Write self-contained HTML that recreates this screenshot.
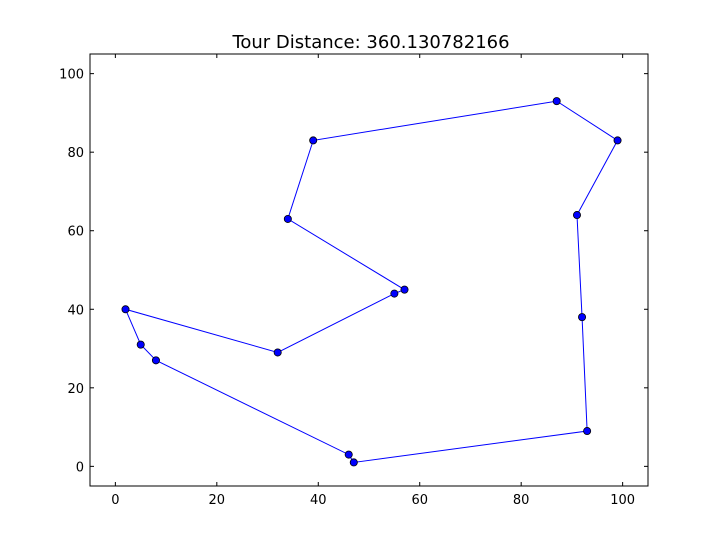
<!DOCTYPE html>
<html><head><meta charset="utf-8"><style>body{margin:0;background:#fff}svg{display:block}</style></head>
<body>
<svg id="chart" width="720" height="540" xmlns="http://www.w3.org/2000/svg" font-family="'DejaVu Sans', 'Liberation Sans', sans-serif">
<rect width="720" height="540" fill="#fff"/>
<text x="371" y="48" text-anchor="middle" font-size="18">Tour Distance: 360.130782166</text>
<g id="plot"></g>
<rect x="90" y="54" width="558" height="432" fill="none" stroke="#000" stroke-width="1"/>
</svg>
<script>
const tourX = [47, 93, 92, 91, 99, 87, 39, 34, 57, 55, 32, 2, 5, 8, 46];
const tourY = [1, 9, 38, 64, 83, 93, 83, 63, 45, 44, 29, 40, 31, 27, 3];
const xTicks = [0, 20, 40, 60, 80, 100];
const yTicks = [0, 20, 40, 60, 80, 100];
const L=90,R=648,T=54,B=486,xmin=-5,xmax=105,ymin=-5,ymax=105;
const sx=v=>L+(v-xmin)/(xmax-xmin)*(R-L);
const sy=v=>B-(v-ymin)/(ymax-ymin)*(B-T);
const NS='http://www.w3.org/2000/svg';
const g=document.getElementById('plot');
function mk(t,a){const e=document.createElementNS(NS,t);for(const k in a)e.setAttribute(k,a[k]);g.appendChild(e);return e;}
xTicks.forEach(v=>{
  const x=sx(v);
  const t1=mk('line',{x1:x,x2:x,y1:B,y2:B-4,stroke:'#000'});
  
  
  const t2=mk('line',{x1:x,x2:x,y1:T,y2:T+4,stroke:'#000'});
  
  
  const l=mk('text',{x:x,y:B+18,'text-anchor':'middle','font-size':'13'});
  l.textContent=v;
  
  
});
yTicks.forEach(v=>{
  const y=sy(v);
  const t1=mk('line',{x1:L,x2:L+4,y1:y,y2:y,stroke:'#000'});
  
  
  const t2=mk('line',{x1:R,x2:R-4,y1:y,y2:y,stroke:'#000'});
  
  
  const l=mk('text',{x:L-6,y:y+5,'text-anchor':'end','font-size':'13'});
  l.textContent=v;
  
  
});
let pts=tourX.map((x,i)=>sx(x)+','+sy(tourY[i]));
pts.push(pts[0]);
const line=mk('polyline',{points:pts.join(' '),fill:'none',stroke:'#0000ff','stroke-width':'1'});


tourX.forEach((x,i)=>{
  const c=mk('circle',{cx:sx(x),cy:sy(tourY[i]),r:3.6,fill:'#0000ff',stroke:'#000','stroke-width':'0.8'});
  
  
});
</script>
</body></html>
